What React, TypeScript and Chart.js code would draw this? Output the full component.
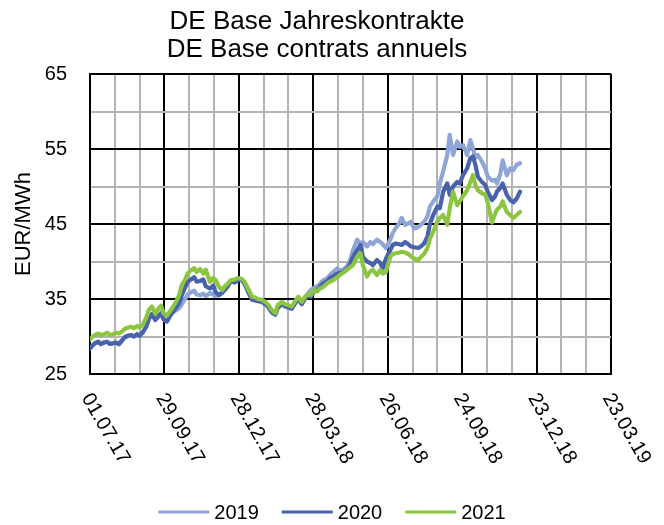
import React, { useEffect, useRef } from 'react';
import { Chart, registerables } from 'chart.js';

Chart.register(...registerables);

const TITLE_LINES = ['DE Base Jahreskontrakte', 'DE Base contrats annuels'];
const Y_TITLE = 'EUR/MWh';
const X_TICK_LABELS = ['01.07.17', '29.09.17', '28.12.17', '28.03.18', '26.06.18', '24.09.18', '23.12.18', '23.03.19'];
const X_MAJOR_STEP = 90;
const X_MINOR_STEP = 30;
const X_MAX = 630;
const Y_MIN = 25;
const Y_MAX = 65;
const Y_MAJOR_STEP = 10;
const Y_MINOR_STEP = 5;
const SERIES_NAMES = ['2019', '2020', '2021'];
const SERIES_COLORS = ['#8FA5D6', '#4862AC', '#8CC640'];

// days since 01.07.17
const DAYS = [
  0, 3, 6, 10, 13, 17, 21, 24, 28, 31, 35, 39, 42, 46, 50, 53, 57, 60, 64, 68,
  71, 75, 79, 82, 86, 89, 93, 97, 100, 104, 108, 111, 115, 118, 122, 126, 129, 133, 137, 140,
  145, 149, 152, 156, 160, 163, 167, 170, 175, 179, 183, 187, 191, 196, 200, 203, 208, 212, 215, 220,
  224, 227, 232, 236, 239, 244, 248, 252, 256, 260, 264, 267, 271, 275, 278, 282, 287, 290, 294, 299,
  302, 306, 311, 314, 318, 323, 327, 330, 335, 339, 342, 347, 351, 354, 358, 363, 366, 370, 374, 377,
  381, 385, 388, 392, 397, 400, 404, 408, 411, 415, 420, 423, 427, 432, 435, 439, 444, 447, 451, 456,
  460, 463, 466, 469, 474, 478, 481, 486, 490, 492, 496, 499, 504, 508, 512, 516, 520,
];

const CAL_2021 = [
  29.6, 30.0, 30.2, 30.4, 30.2, 30.3, 30.5, 30.2, 30.3, 30.5, 30.4, 30.7, 31.0, 31.2, 31.3, 31.1, 31.4, 31.2, 31.6, 32.5,
  33.5, 34.0, 33.0, 33.6, 34.1, 33.1, 32.8, 33.4, 33.9, 34.6, 35.6, 36.9, 37.6, 38.4, 38.8, 39.1, 38.6, 39.0, 38.4, 38.9,
  37.3, 37.8, 37.5, 36.6, 36.2, 36.7, 37.1, 37.5, 37.6, 37.8, 37.7, 37.3, 36.4, 35.3, 35.2, 35.0, 34.9, 34.6, 34.3, 33.5,
  33.1, 34.2, 34.6, 34.3, 34.2, 34.0, 34.7, 35.3, 34.6, 35.3, 35.7, 35.5, 36.2, 36.0, 36.4, 36.6, 37.1, 37.3, 37.5, 37.9,
  38.2, 38.5, 38.9, 39.2, 39.5, 40.6, 41.1, 39.5, 38.0, 38.7, 38.9, 38.2, 38.9, 38.4, 38.6, 40.6, 41.0, 41.1, 41.2, 41.3,
  41.2, 41.0, 40.7, 40.4, 40.2, 40.6, 41.0, 41.8, 43.0, 44.0, 45.3, 45.8, 46.2, 44.9, 47.1, 49.3, 47.5, 48.0, 48.7, 49.5,
  50.6, 51.5, 50.2, 49.5, 49.1, 48.9, 47.8, 45.2, 46.4, 46.9, 47.3, 48.0, 46.6, 46.2, 45.8, 46.2, 46.6,
];

const CAL_2020 = [
  28.4, 28.8, 29.1, 29.3, 29.0, 29.2, 29.3, 29.0, 29.1, 29.2, 29.0, 29.5, 29.9, 30.1, 30.2, 30.0, 30.3, 30.1, 30.6, 31.3,
  32.3, 33.0, 32.2, 32.6, 33.1, 32.3, 32.0, 32.8, 33.3, 33.8, 34.5, 35.5, 36.5, 37.3, 37.6, 37.9, 37.3, 37.4, 37.6, 36.7,
  36.4, 36.8, 35.9, 35.5, 35.9, 36.2, 36.8, 37.4, 37.2, 37.5, 37.6, 37.0, 36.0, 34.9, 34.8, 34.7, 34.6, 34.3, 34.0, 33.2,
  32.9, 33.8, 34.3, 34.0, 33.9, 33.7, 34.4, 35.0, 34.3, 35.0, 35.4, 35.3, 36.0, 36.2, 36.6, 37.1, 37.4, 37.8, 38.0, 38.4,
  38.5, 38.6, 39.0, 39.5, 40.6, 41.5, 42.2, 40.6, 40.0, 39.8, 39.5, 40.2, 39.8, 39.1, 40.4, 41.5, 42.2, 42.4, 42.3, 42.2,
  42.6, 42.3, 42.0, 41.9, 41.8, 42.0, 42.4, 43.3, 45.0, 46.2, 47.3, 47.1, 49.3, 50.4, 48.9, 50.0, 50.6, 50.4, 51.5, 52.4,
  53.8, 54.0, 52.9, 51.3, 50.6, 50.2, 49.3, 48.2, 48.7, 49.3, 49.8, 50.4, 48.9, 48.2, 47.9, 48.4, 49.3,
];

const CAL_2019 = [
  28.4, 28.8, 29.1, 29.3, 29.0, 29.2, 29.3, 29.0, 29.1, 29.2, 29.0, 29.5, 29.9, 30.1, 30.2, 30.0, 30.3, 30.1, 30.6, 31.3,
  32.3, 33.0, 32.2, 32.6, 33.1, 32.3, 32.0, 32.8, 33.2, 33.5, 33.8, 34.3, 35.0, 35.6, 35.9, 36.1, 35.6, 35.5, 35.7, 35.4,
  35.8, 35.6, 35.4, 35.6, 35.8, 36.3, 36.7, 37.3, 37.3, 37.5, 37.6, 37.1, 36.1, 35.0, 34.9, 34.8, 34.7, 34.4, 34.1, 33.3,
  33.0, 33.9, 34.4, 34.1, 34.0, 33.8, 34.5, 35.1, 34.4, 35.2, 35.8, 36.2, 36.5, 36.7, 37.0, 37.5, 37.8, 38.2, 38.6, 39.1,
  38.8, 38.9, 39.4, 40.0, 41.5, 42.9, 42.4, 42.6, 42.0, 42.6, 42.3, 42.9, 42.6, 42.3, 41.8, 42.9, 43.8, 44.5, 45.1, 45.8,
  44.9, 45.1, 45.3, 44.4, 44.6, 44.9, 45.3, 46.0, 47.3, 48.0, 48.7, 50.4, 52.0, 54.2, 56.9, 54.2, 56.0, 55.3, 55.5, 54.2,
  56.2, 55.1, 53.8, 54.2, 53.3, 52.4, 51.3, 50.8, 50.9, 50.4, 51.6, 53.5, 51.5, 52.4, 52.2, 52.9, 53.1,
];

const SERIES_VALUES = [CAL_2019, CAL_2020, CAL_2021];

const FONT = "'Liberation Sans', Arial, sans-serif";

export default function App() {
  const ref = useRef<HTMLCanvasElement>(null);

  useEffect(() => {
    const canvas = ref.current;
    if (!canvas) return;

    const textPlugin = {
      id: 'customText',
      afterDraw(chart: any) {
        const ctx = chart.ctx as CanvasRenderingContext2D;
        ctx.save();
        ctx.fillStyle = '#000';

        // title
        ctx.font = `26px ${FONT}`;
        ctx.textAlign = 'center';
        ctx.textBaseline = 'alphabetic';
        TITLE_LINES.forEach((t, i) => ctx.fillText(t, 317, 29 + i * 28));

        // rotated x tick labels
        const xs = chart.scales.x;
        ctx.font = `20px ${FONT}`;
        X_TICK_LABELS.forEach((lab, i) => {
          const px = xs.getPixelForValue(i * X_MAJOR_STEP);
          ctx.save();
          ctx.translate(px - 4, chart.chartArea.bottom + 21);
          ctx.rotate(Math.PI / 3);
          ctx.textAlign = 'left';
          ctx.textBaseline = 'middle';
          ctx.fillText(lab, 0, 0);
          ctx.restore();
        });

        // legend
        const lineLen = 51;
        const gap = 5;
        const spacing = 23;
        const ly = 512;
        ctx.font = `20px ${FONT}`;
        ctx.textAlign = 'left';
        ctx.textBaseline = 'middle';
        const widths = SERIES_NAMES.map((n) => lineLen + gap + ctx.measureText(n).width);
        const total = widths.reduce((a, b) => a + b, 0) + spacing * (SERIES_NAMES.length - 1);
        let x = chart.width / 2 - total / 2;
        SERIES_NAMES.forEach((n, i) => {
          ctx.strokeStyle = SERIES_COLORS[i];
          ctx.lineWidth = 3;
          ctx.beginPath();
          ctx.moveTo(x, ly);
          ctx.lineTo(x + lineLen, ly);
          ctx.stroke();
          ctx.fillText(n, x + lineLen + gap, ly + 1);
          x += widths[i] + spacing;
        });
        ctx.restore();
      },
    };

    const datasets = SERIES_NAMES.map((name, i) => ({
      label: name,
      data: DAYS.map((d, j) => ({ x: d, y: SERIES_VALUES[i][j] })),
      borderColor: SERIES_COLORS[i],
      backgroundColor: SERIES_COLORS[i],
      borderWidth: 4.2,
      pointRadius: 0,
      tension: 0,
      borderJoinStyle: 'round' as const,
      borderCapStyle: 'round' as const,
      order: SERIES_NAMES.length - 1 - i,
    }));

    const chart = new Chart(canvas, {
      type: 'line',
      data: { datasets },
      options: {
        responsive: false,
        animation: false,
        devicePixelRatio: 1,
        layout: { padding: { left: 0, right: 53, top: 74, bottom: 151 } },
        plugins: {
          legend: { display: false },
          title: { display: false },
          tooltip: { enabled: false },
        },
        scales: {
          x: {
            type: 'linear',
            min: 0,
            max: X_MAX,
            ticks: { display: false, stepSize: X_MINOR_STEP },
            grid: {
              color: (c: any) => (c.tick && c.tick.value % X_MAJOR_STEP === 0 ? '#000000' : '#b4b4b4'),
              lineWidth: 2,
              drawTicks: false,
            },
            border: { color: '#000000', width: 2 },
          },
          y: {
            min: Y_MIN,
            max: Y_MAX,
            afterFit: (s: any) => {
              s.width = 90;
            },
            ticks: {
              stepSize: Y_MINOR_STEP,
              autoSkip: false,
              padding: 23,
              color: '#000',
              font: { family: FONT, size: 20 },
              callback: (v: any) => ((Number(v) - Y_MIN) % Y_MAJOR_STEP === 0 ? String(v) : ''),
            },
            grid: {
              color: (c: any) => (c.tick && (c.tick.value - Y_MIN) % Y_MAJOR_STEP === 0 ? '#000000' : '#b4b4b4'),
              lineWidth: 2,
              drawTicks: false,
            },
            border: { color: '#000000', width: 2 },
            title: {
              display: true,
              text: Y_TITLE,
              color: '#000',
              font: { family: FONT, size: 22 },
              padding: { top: 11, bottom: 0 },
            },
          },
        },
      },
      plugins: [textPlugin],
    });

    return () => chart.destroy();
  }, []);

  return (
    <div style={{ position: 'fixed', left: 0, top: 0, width: 664, height: 525, background: '#fff' }}>
      <canvas ref={ref} width={664} height={525} style={{ display: 'block' }} />
    </div>
  );
}
